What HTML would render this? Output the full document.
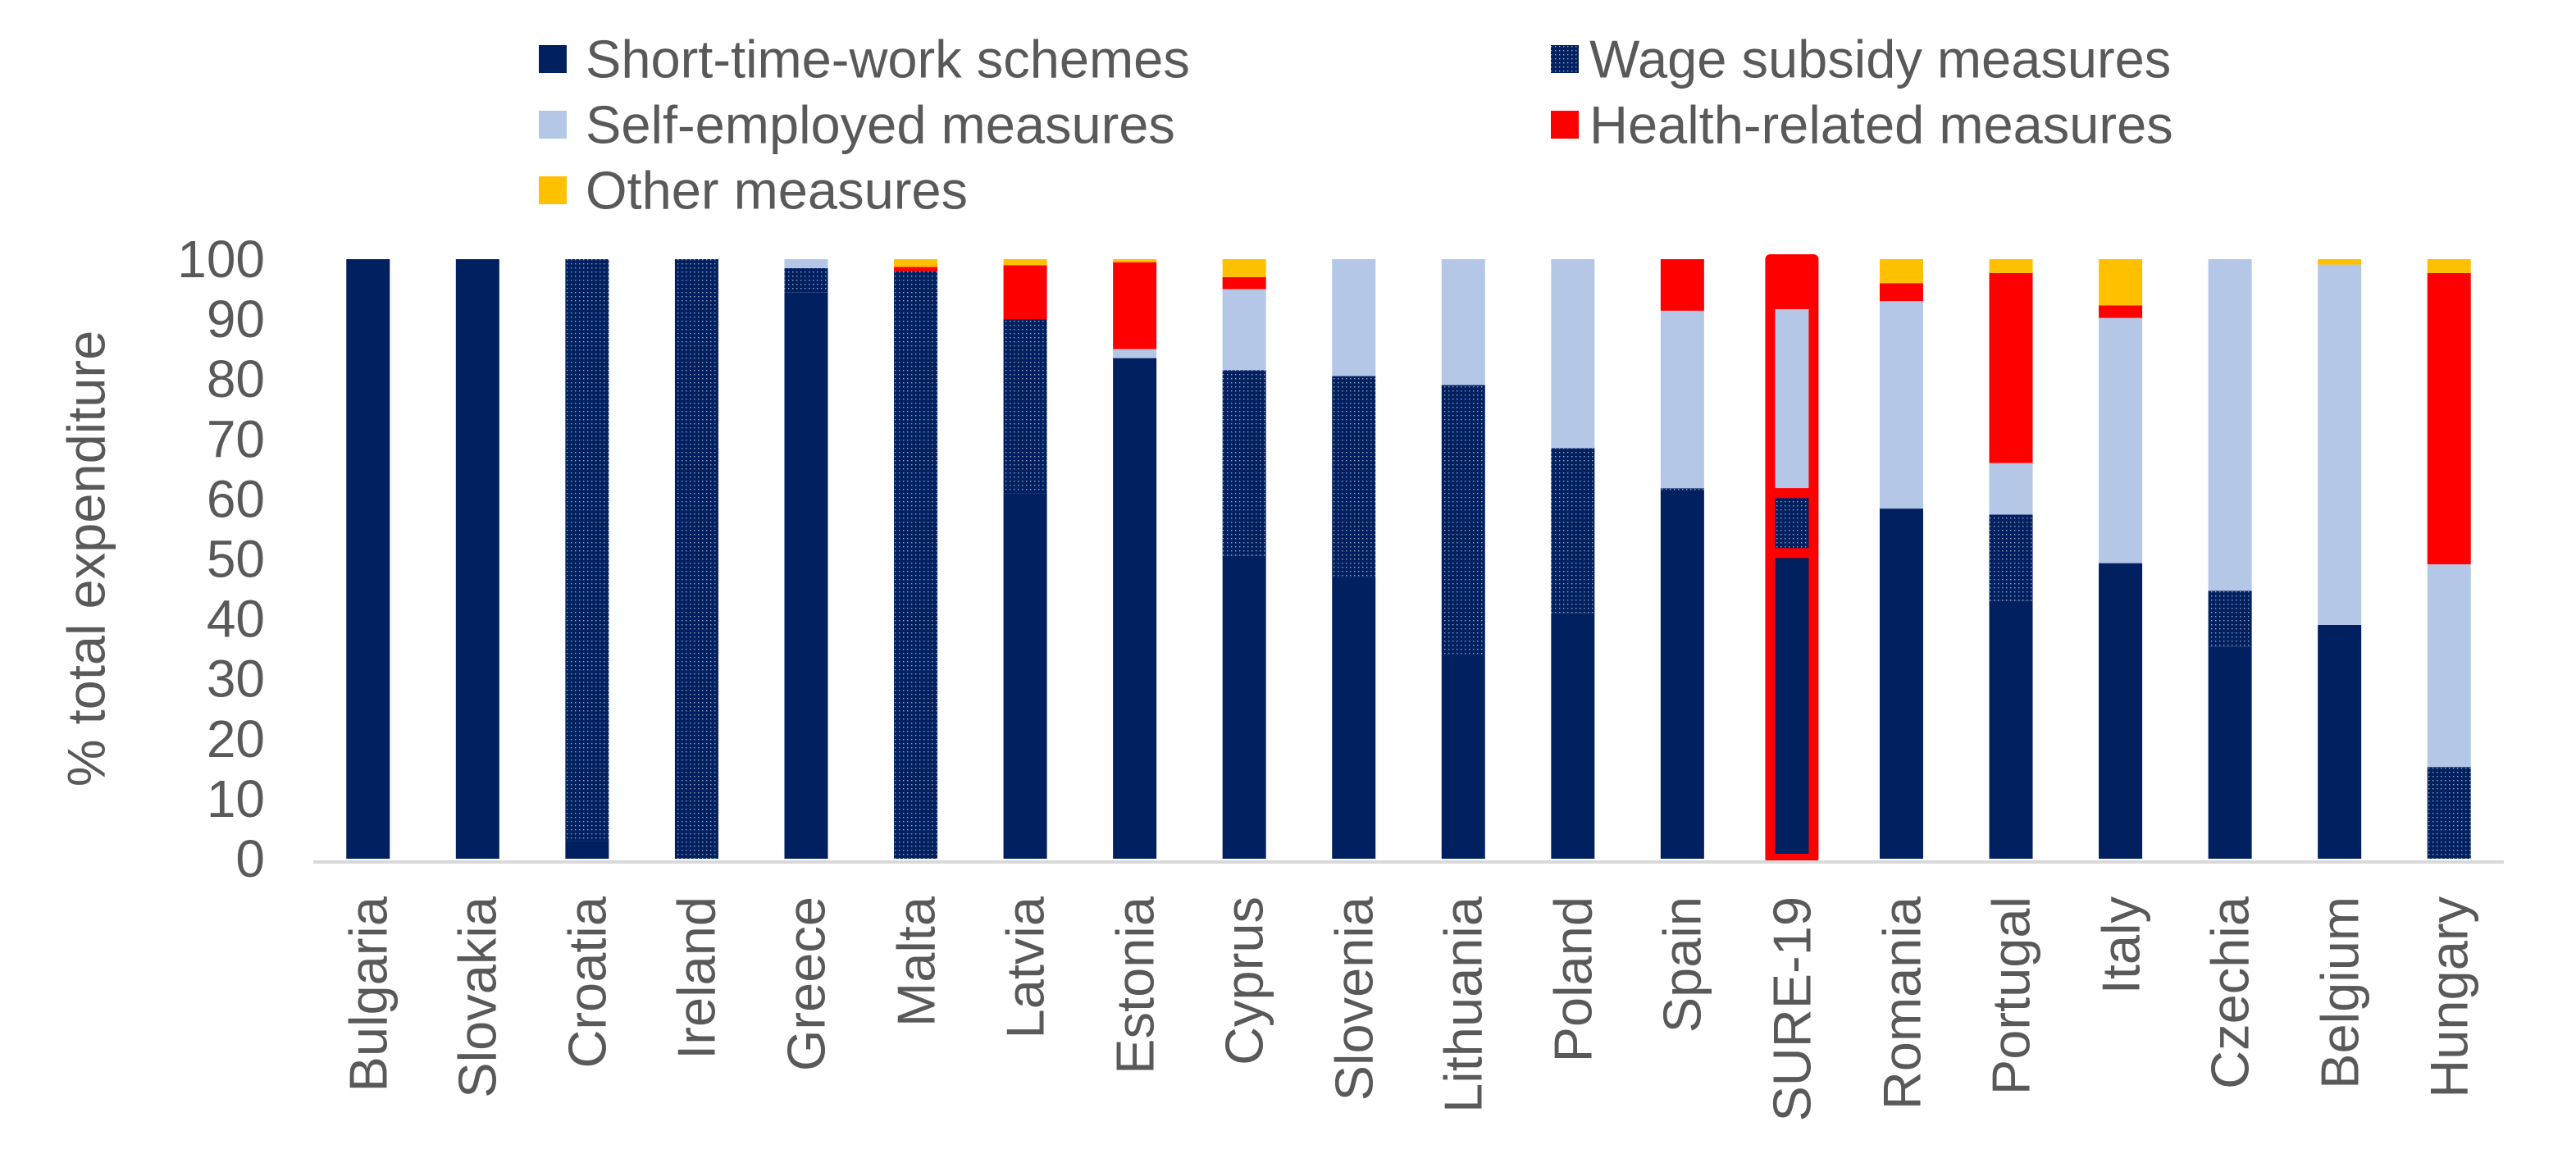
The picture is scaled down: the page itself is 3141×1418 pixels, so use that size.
<!DOCTYPE html>
<html><head><meta charset="utf-8"><style>
html,body{margin:0;padding:0;background:#fff;}
svg{display:block;font-family:"Liberation Sans",Arial,sans-serif;}
</style></head><body>
<svg id="s" width="3141" height="1418" viewBox="0 0 3141 1418" xmlns="http://www.w3.org/2000/svg">
<defs>
<pattern id="dots" width="5" height="5" patternUnits="userSpaceOnUse">
<rect width="5" height="5" fill="#002060"/>
<rect x="1" y="1" width="1.4" height="1.4" fill="#9aa6c4"/>
</pattern>
</defs>
<g fill="#595959" font-size="65">
<text x="714" y="72" dominant-baseline="central">Short-time-work schemes</text>
<text x="1938" y="72" dominant-baseline="central">Wage subsidy measures</text>
<text x="714" y="152" dominant-baseline="central">Self-employed measures</text>
<text x="1938" y="152" dominant-baseline="central">Health-related measures</text>
<text x="714" y="232" dominant-baseline="central">Other measures</text>
</g>
<rect x="657" y="55" width="34" height="34" fill="#002060"/>
<rect x="1891" y="55" width="34" height="34" fill="url(#dots)"/>
<rect x="657" y="135" width="34" height="34" fill="#b4c7e7"/>
<rect x="1891" y="135" width="34" height="34" fill="#ff0000"/>
<rect x="657" y="215" width="34" height="34" fill="#ffc000"/>
<g fill="#595959" font-size="64" text-anchor="end">
<text x="323" y="1047" dominant-baseline="central">0</text>
<text x="323" y="973.9" dominant-baseline="central">10</text>
<text x="323" y="900.8" dominant-baseline="central">20</text>
<text x="323" y="827.7" dominant-baseline="central">30</text>
<text x="323" y="754.6" dominant-baseline="central">40</text>
<text x="323" y="681.5" dominant-baseline="central">50</text>
<text x="323" y="608.4" dominant-baseline="central">60</text>
<text x="323" y="535.3" dominant-baseline="central">70</text>
<text x="323" y="462.2" dominant-baseline="central">80</text>
<text x="323" y="389.1" dominant-baseline="central">90</text>
<text x="323" y="316" dominant-baseline="central">100</text>
</g>
<text transform="translate(105,681) rotate(-90)" text-anchor="middle" dominant-baseline="central" fill="#595959" font-size="65">% total expenditure</text>
<g id="bars"></g>
<rect x="382" y="1049" width="2671" height="4" fill="#d9d9d9"/>
<g id="xl" fill="#595959" font-size="65" text-anchor="end">
<text transform="translate(449,1093) rotate(-90)" dominant-baseline="central">Bulgaria</text>
<text transform="translate(582,1093) rotate(-90)" dominant-baseline="central">Slovakia</text>
<text transform="translate(716,1093) rotate(-90)" dominant-baseline="central">Croatia</text>
<text transform="translate(849,1093) rotate(-90)" dominant-baseline="central">Ireland</text>
<text transform="translate(983,1093) rotate(-90)" dominant-baseline="central">Greece</text>
<text transform="translate(1117,1093) rotate(-90)" dominant-baseline="central">Malta</text>
<text transform="translate(1250,1093) rotate(-90)" dominant-baseline="central">Latvia</text>
<text transform="translate(1384,1093) rotate(-90)" dominant-baseline="central">Estonia</text>
<text transform="translate(1517,1093) rotate(-90)" dominant-baseline="central">Cyprus</text>
<text transform="translate(1651,1093) rotate(-90)" dominant-baseline="central">Slovenia</text>
<text transform="translate(1784,1093) rotate(-90)" dominant-baseline="central">Lithuania</text>
<text transform="translate(1918,1093) rotate(-90)" dominant-baseline="central">Poland</text>
<text transform="translate(2051,1093) rotate(-90)" dominant-baseline="central">Spain</text>
<text transform="translate(2185,1093) rotate(-90)" dominant-baseline="central">SURE-19</text>
<text transform="translate(2319,1093) rotate(-90)" dominant-baseline="central">Romania</text>
<text transform="translate(2452,1093) rotate(-90)" dominant-baseline="central">Portugal</text>
<text transform="translate(2586,1093) rotate(-90)" dominant-baseline="central">Italy</text>
<text transform="translate(2719,1093) rotate(-90)" dominant-baseline="central">Czechia</text>
<text transform="translate(2853,1093) rotate(-90)" dominant-baseline="central">Belgium</text>
<text transform="translate(2986,1093) rotate(-90)" dominant-baseline="central">Hungary</text>
</g>
</svg>
<script>
var data=[[100,0,0,0,0],[100,0,0,0,0],[3,97,0,0,0],[0,100,0,0,0],[94.5,4,1.5,0,0],
[0,98,0,0.7,1.3],[61,29,0,9,1],[83.5,0,1.5,14.5,0.5],[50.5,31,13.5,2,3],[47,33.5,19.5,0,0],
[34,45,21,0,0],[41,27.5,31.5,0,0],[61.5,0.3,29.6,8.6,0],[51,10,31.5,7,0.5],[58.4,0,34.6,3,4],
[43,14.4,8.6,31.7,2.3],[49.3,0,40.9,2.1,7.7],[35.4,9.3,55.3,0,0],[39,0,60.1,0,0.9],[0,15.3,33.8,48.6,2.3]];
var cols=["#002060","url(#dots)","#b4c7e7","#ff0000","#ffc000"];
var g=document.getElementById("bars"),ns="http://www.w3.org/2000/svg",h="";
for(var i=0;i<20;i++){var cx=382+133.55*(i+0.5),x=cx-26.5,acc=0;
 for(var j=0;j<5;j++){var v=data[i][j];if(v<=0)continue;
  var y0=1047-7.31*acc,y1=1047-7.31*(acc+v);acc+=v;
  var st=(i==13)?' stroke="#ff0000" stroke-width="12" stroke-linejoin="round"':'';
  h+='<rect x="'+x+'" y="'+y1+'" width="53" height="'+(y0-y1)+'" fill="'+cols[j]+'"'+st+'/>';}}
g.innerHTML=h;
</script>
</body></html>
